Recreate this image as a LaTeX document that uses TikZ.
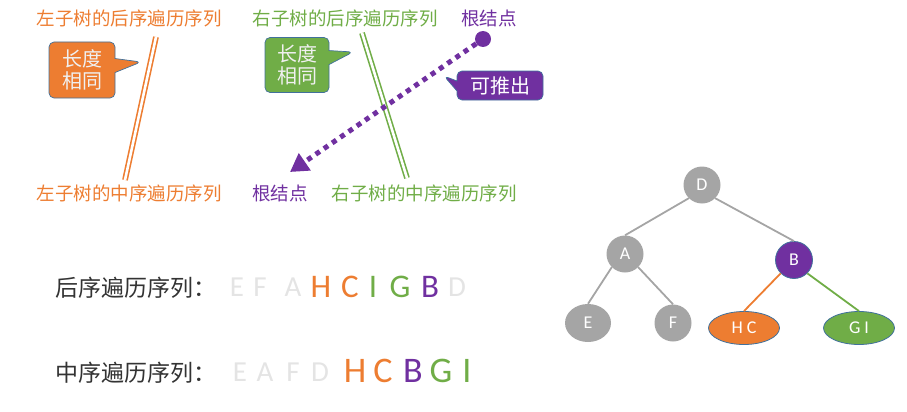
\documentclass[tikz,border=0pt]{standalone}
\usepackage{fontspec}
\setmainfont{Carlito}
\newfontfamily\cjk{Noto Sans CJK SC}
\usetikzlibrary{shapes.callouts,shapes.geometric,arrows.meta}
\definecolor{cor}{HTML}{ED7D31}
\definecolor{cgr}{HTML}{70AD47}
\definecolor{cpu}{HTML}{7030A0}
\definecolor{cgy}{HTML}{A5A5A5}
\definecolor{clt}{HTML}{E4E4E4}
\definecolor{cbd}{HTML}{41719C}
\definecolor{ctx}{HTML}{333333}
\begin{document}
\begin{tikzpicture}[x=1pt,y=-1pt,
 lbl/.style={font=\cjk\fontsize{18.5}{20}\selectfont, inner sep=0pt},
 seqlbl/.style={font=\cjk\fontsize{23}{25}\selectfont, text=ctx, inner sep=0pt, anchor=west},
 letter/.style={font=\fontsize{29}{31}\selectfont, inner sep=0pt, text=clt},
 hi/.style={font=\fontsize{33}{35}\selectfont},
 hii/.style={font=\fontsize{36}{38}\selectfont},
 bubble/.style={rectangle callout, rounded corners=5pt, draw=cbd, line width=0.7pt,
   text=white!94!black, font=\cjk\fontsize{20}{22}\selectfont, align=center, inner sep=0pt,
   callout pointer width=14pt},
 dbl/.style={line width=1.6pt, double=white, double distance=2.6pt},
 tnode/.style={circle, fill=cgy, minimum size=37pt, inner sep=0pt, text=white,
   font=\fontsize{18}{20}\selectfont},
 tedge/.style={draw=cgy, line width=1.8pt},
]
\useasboundingbox (0,0) rectangle (907,412);

% top labels
\node[lbl, text=cor] (lpost) at (129,18) {左子树的后序遍历序列};
\node[lbl, text=cor] (lin) at (129,193) {左子树的中序遍历序列};
\node[lbl, text=cgr] (rpost) at (345,18) {右子树的后序遍历序列};
\node[lbl, text=cpu] (root1) at (489,18) {根结点};
\node[lbl, text=cpu] (root2) at (280,193) {根结点};
\node[lbl, text=cgr] (rin) at (424,193) {右子树的中序遍历序列};

% double lines
\coordinate (ol1) at (156,37);
\coordinate (ol2) at (125,180);
\draw[dbl, draw=cor] (ol1) -- (ol2);
\coordinate (gl1) at (362,33);
\coordinate (gl2) at (407,178);
\draw[dbl, draw=cgr] (gl1) -- (gl2);

% callouts
\node[bubble, fill=cor, minimum width=66pt, minimum height=56pt,
  callout absolute pointer={(141,62)}] (bo) at (82,70) {长度\\相同};
\node[bubble, fill=cgr, minimum width=64pt, minimum height=55pt,
  callout absolute pointer={(353,52)}] (bg) at (297,65) {长度\\相同};
\node[bubble, fill=cpu, text=white, minimum width=86pt, minimum height=29pt,
  callout pointer width=10pt,
  callout absolute pointer={(444,76)}] (bp) at (500,85.5) {可推出};

% purple dotted arrow
\node[circle, fill=cpu, minimum size=16pt, inner sep=0pt] (dot) at (483,39) {};
\coordinate (tip) at (290,172);
\draw[cpu, line width=5pt, dash pattern=on 5pt off 5pt,
  -{Triangle[length=18pt,width=20pt]}] (dot) -- (tip);

% sequences
\node[seqlbl] (post) at (55,288) {后序遍历序列：};
\node[letter] (p1) at (237,287.5) {E};
\node[letter] (p2) at (260,287.5) {F};
\node[letter] (p3) at (293,287.5) {A};
\node[letter, hi, text=cor] (p4) at (321,287) {H};
\node[letter, hi, text=cor] (p5) at (350,287) {C};
\node[letter, hi, text=cgr] (p6) at (373,287) {I};
\node[letter, hi, text=cgr] (p7) at (400,287) {G};
\node[letter, hi, text=cpu] (p8) at (430,287) {B};
\node[letter] (p9) at (457,287.5) {D};

\node[seqlbl] (in) at (55,373) {中序遍历序列：};
\node[letter] (q1) at (240,372) {E};
\node[letter] (q2) at (265,372) {A};
\node[letter] (q3) at (293,372) {F};
\node[letter] (q4) at (320,372) {D};
\node[letter, hii, text=cor] (q5) at (355,371) {H};
\node[letter, hii, text=cor] (q6) at (383,371) {C};
\node[letter, hii, text=cpu] (q7) at (413,371) {B};
\node[letter, hii, text=cgr] (q8) at (441,371) {G};
\node[letter, hii, text=cgr] (q9) at (467,371) {I};

% tree
\node[tnode] (D) at (702,185) {D};
\node[tnode] (A) at (625,254) {A};
\node[tnode, fill=cpu, draw=cbd, line width=0.8pt] (B) at (794,260) {B};
\node[tnode, ellipse, minimum width=46pt, minimum height=38pt] (E) at (588,323) {E};
\node[tnode] (F) at (673,323) {F};
\node[tnode, ellipse, fill=cor, draw=cbd, line width=0.8pt, minimum width=71pt, minimum height=33pt] (HC) at (744,328) {H C};
\node[tnode, ellipse, fill=cgr, draw=cbd, line width=0.8pt, minimum width=71pt, minimum height=33pt] (GI) at (859,328) {G I};
\draw[tedge] (D.south west) -- (A.north);
\draw[tedge] (D.south east) -- (B.north);
\draw[tedge] (A.south west) -- (E.north);
\draw[tedge] (A.south east) -- (F.north);
\draw[tedge, draw=cor] (B.south west) -- (HC.north);
\draw[tedge, draw=cgr] (B.south east) -- (GI.north);
\end{tikzpicture}
\end{document}
